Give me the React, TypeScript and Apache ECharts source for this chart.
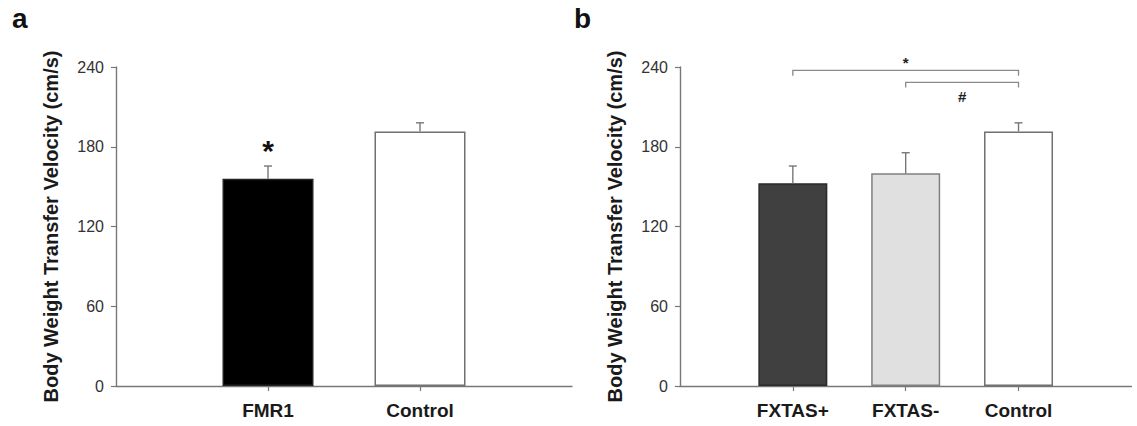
import React, { useEffect, useRef } from "react";
import * as echarts from "echarts";

// ---- Data ----
const categoriesA = ["FMR1", "Control"];
const meansA = [156, 191.5];
const errorsA = [9.5, 6.5];

const categoriesB = ["FXTAS+", "FXTAS-", "Control"];
const meansB = [152.5, 160, 191.5];
const errorsB = [13, 15.5, 6.5];

const yTicks = [0, 60, 120, 180, 240];
const yTitle = "Body Weight Transfer Velocity (cm/s)";

// significance marks
const marksA = [{ cat: "FMR1", y: 177, mark: "*" }];
const bracketsB = [
  { from: "FXTAS+", to: "Control", y: 237.5, tip: 233.5, mark: "*", markY: 243.5 },
  { from: "FXTAS-", to: "Control", y: 228.5, tip: 224.5, mark: "#", markY: 218 },
];

// ---- Styles ----
const barStylesA = [
  { color: "#000000", borderColor: "#222222" },
  { color: "#ffffff", borderColor: "#707070" },
];
const barStylesB = [
  { color: "#404040", borderColor: "#2a2a2a" },
  { color: "#e0e0e0", borderColor: "#808080" },
  { color: "#ffffff", borderColor: "#707070" },
];

const AXIS_COLOR = "#777777";
const FONT = "Liberation Sans, Arial, sans-serif";

function pad(cats: string[]) {
  return ["", ...cats, " "];
}

function buildPanel(cats: string[], means: number[], errs: number[], styles: any[]) {
  const padded = pad(cats);
  const barData = cats.map((c, i) => ({
    value: [i + 1, means[i]],
    itemStyle: { color: styles[i].color, borderColor: styles[i].borderColor, borderWidth: 1.5 },
  }));
  const errData = cats.map((c, i) => [i + 1, means[i], means[i] + errs[i]]);
  return { padded, barData, errData };
}

export default function App() {
  const ref = useRef<HTMLDivElement>(null);
  useEffect(() => {
    document.body.style.margin = "0";
    const chart = echarts.init(ref.current!, undefined, { renderer: "svg" });
    const A = buildPanel(categoriesA, meansA, errorsA, barStylesA);
    const B = buildPanel(categoriesB, meansB, errorsB, barStylesB);

    const xAxisCommon = (data: string[], gridIndex: number) => ({
      type: "category",
      gridIndex,
      data,
      boundaryGap: false,
      axisLine: { lineStyle: { color: AXIS_COLOR, width: 1.4 } },
      axisTick: {
        show: true,
        length: 5,
        lineStyle: { color: AXIS_COLOR, width: 1.2 },
        interval: (i: number) => i > 0 && i < data.length - 1,
      },
      axisLabel: {
        interval: 0,
        margin: 15,
        color: "#1a1a1a",
        fontFamily: FONT,
        fontWeight: "bold",
        fontSize: 19,
      },
      splitLine: { show: false },
    });
    const yAxisCommon = (gridIndex: number) => ({
      type: "value",
      gridIndex,
      min: yTicks[0],
      max: yTicks[yTicks.length - 1],
      interval: yTicks[1] - yTicks[0],
      name: yTitle,
      nameLocation: "middle",
      nameGap: 55,
      nameTextStyle: { fontFamily: FONT, fontWeight: "bold", fontSize: 20, color: "#1a1a1a" },
      axisLine: { show: true, lineStyle: { color: AXIS_COLOR, width: 1.4 } },
      axisTick: { show: true, length: 5, lineStyle: { color: AXIS_COLOR, width: 1.2 } },
      axisLabel: { margin: 12, color: "#333333", fontFamily: FONT, fontSize: 16 },
      splitLine: { show: false },
    });

    const errorRender = (params: any, api: any) => {
      const x = api.value(0);
      const lo = api.coord([x, api.value(1)]);
      const hi = api.coord([x, api.value(2)]);
      const cap = 4;
      const style = { stroke: AXIS_COLOR, lineWidth: 1.4 };
      return {
        type: "group",
        children: [
          { type: "line", shape: { x1: lo[0], y1: lo[1], x2: hi[0], y2: hi[1] }, style },
          { type: "line", shape: { x1: hi[0] - cap, y1: hi[1], x2: hi[0] + cap, y2: hi[1] }, style },
        ],
      };
    };

    const marksAData = marksA.map((m) => [categoriesA.indexOf(m.cat) + 1, m.y]);
    const bracketData = bracketsB.map((b) => [
      categoriesB.indexOf(b.from) + 1,
      categoriesB.indexOf(b.to) + 1,
      b.y,
      b.tip,
      b.markY,
    ]);

    const option: any = {
      animation: false,
      backgroundColor: "#ffffff",
      graphic: [
        { type: "text", left: 12, top: 4, style: { text: "a", fontFamily: FONT, fontWeight: "bold", fontSize: 28, fill: "#111" } },
        { type: "text", left: 574, top: 4, style: { text: "b", fontFamily: FONT, fontWeight: "bold", fontSize: 28, fill: "#111" } },
      ],
      grid: [
        { left: 116, top: 67, width: 456, height: 319 },
        { left: 680, top: 67, width: 456, height: 319 },
      ],
      xAxis: [xAxisCommon(A.padded, 0), xAxisCommon(B.padded, 1)],
      yAxis: [yAxisCommon(0), yAxisCommon(1)],
      series: [
        { type: "bar", xAxisIndex: 0, yAxisIndex: 0, barWidth: 91, data: A.barData },
        { type: "bar", xAxisIndex: 1, yAxisIndex: 1, barWidth: 69, data: B.barData },
        {
          type: "custom",
          xAxisIndex: 0,
          yAxisIndex: 0,
          renderItem: errorRender,
          data: A.errData,
          encode: { x: 0, y: [1, 2] },
          z: 3,
        },
        {
          type: "custom",
          xAxisIndex: 1,
          yAxisIndex: 1,
          renderItem: errorRender,
          data: B.errData,
          encode: { x: 0, y: [1, 2] },
          z: 3,
        },
        {
          type: "custom",
          xAxisIndex: 0,
          yAxisIndex: 0,
          data: marksAData,
          encode: { x: 0, y: 1 },
          renderItem: (params: any, api: any) => {
            const p = api.coord([api.value(0), api.value(1)]);
            return {
              type: "text",
              x: p[0],
              y: p[1],
              style: {
                text: marksA[params.dataIndex].mark,
                fontFamily: FONT,
                fontWeight: "bold",
                fontSize: 30,
                fill: "#111",
                align: "center",
                verticalAlign: "middle",
              },
            };
          },
          z: 4,
        },
        {
          type: "custom",
          xAxisIndex: 1,
          yAxisIndex: 1,
          data: bracketData,
          encode: { x: [0, 1], y: [2, 3, 4] },
          renderItem: (params: any, api: any) => {
            const a = api.coord([api.value(0), api.value(2)]);
            const b = api.coord([api.value(1), api.value(2)]);
            const at = api.coord([api.value(0), api.value(3)]);
            const bt = api.coord([api.value(1), api.value(3)]);
            const my = api.coord([api.value(0), api.value(4)])[1];
            const mx = (a[0] + b[0]) / 2;
            const style = { stroke: "#8a8a8a", lineWidth: 1.3, fill: null };
            return {
              type: "group",
              children: [
                { type: "polyline", shape: { points: [at, a, b, bt] }, style },
                {
                  type: "text",
                  x: mx,
                  y: my,
                  style: {
                    text: bracketsB[params.dataIndex].mark,
                    fontFamily: FONT,
                    fontWeight: "bold",
                    fontSize: 15,
                    fill: "#222",
                    align: "center",
                    verticalAlign: "middle",
                  },
                },
              ],
            };
          },
          z: 4,
        },
      ],
    };
    chart.setOption(option);
    return () => chart.dispose();
  }, []);
  return <div ref={ref} style={{ width: 1137, height: 426 }} />;
}
